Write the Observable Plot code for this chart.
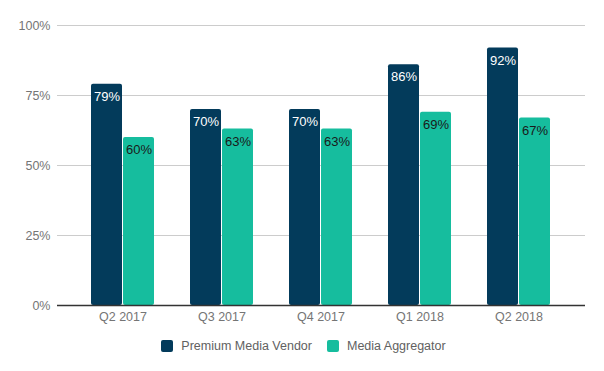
<!DOCTYPE html>
<html>
<head>
<meta charset="utf-8">
<script src="https://cdn.jsdelivr.net/npm/d3@7"></script>
<script src="https://cdn.jsdelivr.net/npm/@observablehq/plot@0.6"></script>
<style>
  body { margin: 0; background: #fff; font-family: "Liberation Sans", Arial, sans-serif; }
  #legend { display: flex; justify-content: center; align-items: center; gap: 0; height: 28px; font-size: 12.5px; color: #616161; padding-left: 3px; }
  .item { display: flex; align-items: center; margin: 0 7.5px; }
  .sw { width: 12px; height: 12px; border-radius: 2px; margin-right: 8px; }
</style>
</head>
<body>
<div id="chart"></div>
<div id="legend"></div>
<script>
const quarters = ["Q2 2017", "Q3 2017", "Q4 2017", "Q1 2018", "Q2 2018"];
const series = ["Premium Media Vendor", "Media Aggregator"];
const premium = [79, 70, 70, 86, 92];
const aggregator = [60, 63, 63, 69, 67];
const yTicks = [0, 25, 50, 75, 100];
const colors = ["#033b5b", "#16bd9e"];

const data = quarters.flatMap((q, i) => [
  {quarter: q, series: series[0], value: premium[i] / 100},
  {quarter: q, series: series[1], value: aggregator[i] / 100}
]);

const pi = 0.3636, po = 0.348;
const chart = Plot.plot({
  width: 604,
  height: 332,
  marginLeft: 57,
  marginRight: 19,
  marginTop: 25,
  marginBottom: 27,
  style: {fontFamily: "'Liberation Sans', Arial, sans-serif", fontSize: "12.5px", color: "#757575", background: "#fff"},
  x: {domain: quarters, paddingInner: pi, paddingOuter: po, label: null, tickSize: 0, tickPadding: 7},
  y: {domain: [0, 1], ticks: yTicks.map(t => t / 100), tickFormat: d => Math.round(d * 100) + "%", label: null, tickSize: 0, tickPadding: 7},
  marks: [
    Plot.ruleY(yTicks.map(t => t / 100), {stroke: "#cccccc", strokeWidth: 1}),
    Plot.barY(data.filter(d => d.series === series[0]), {x: "quarter", y: "value", fill: colors[0], insetRight: 32, rx: 2}),
    Plot.barY(data.filter(d => d.series === series[1]), {x: "quarter", y: "value", fill: colors[1], insetLeft: 32, rx: 2}),
    Plot.text(data.filter(d => d.series === series[0]), {x: "quarter", y: "value", text: d => Math.round(d.value * 100) + "%", dx: -16, dy: 12.5, fill: "#ffffff", fontSize: 13}),
    Plot.text(data.filter(d => d.series === series[1]), {x: "quarter", y: "value", text: d => Math.round(d.value * 100) + "%", dx: 16, dy: 12.5, fill: "#1a1a1a", fontSize: 13}),
    Plot.ruleY([0], {stroke: "#333333", strokeWidth: 1.3})
  ]
});
document.getElementById("chart").appendChild(chart);

const legend = document.getElementById("legend");
series.forEach((s, i) => {
  const item = document.createElement("div");
  item.className = "item";
  const sw = document.createElement("div");
  sw.className = "sw";
  sw.style.background = colors[i];
  const label = document.createElement("span");
  label.textContent = s;
  item.appendChild(sw);
  item.appendChild(label);
  legend.appendChild(item);
});
</script>
</body>
</html>
